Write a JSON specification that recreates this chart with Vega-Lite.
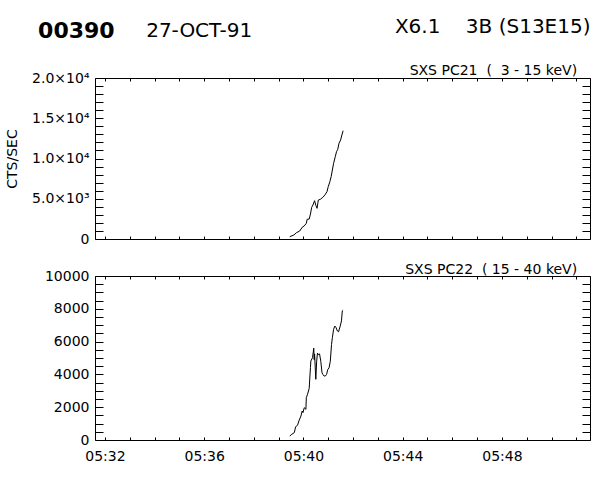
{
  "$schema": "https://vega.github.io/schema/vega-lite/v6.json",
  "background": "white",
  "padding": {"left": 5, "top": 16, "right": 5, "bottom": 5},
  "datasets": {
    "pc21": [
      {"t": "1991-10-27T05:39:27", "v": 290},
      {"t": "1991-10-27T05:39:37", "v": 500},
      {"t": "1991-10-27T05:39:43", "v": 780},
      {"t": "1991-10-27T05:39:51", "v": 990},
      {"t": "1991-10-27T05:39:57", "v": 1450},
      {"t": "1991-10-27T05:40:02", "v": 1620},
      {"t": "1991-10-27T05:40:07", "v": 1950},
      {"t": "1991-10-27T05:40:09", "v": 2450},
      {"t": "1991-10-27T05:40:14", "v": 2480},
      {"t": "1991-10-27T05:40:17", "v": 3100},
      {"t": "1991-10-27T05:40:20", "v": 3940},
      {"t": "1991-10-27T05:40:23", "v": 4220},
      {"t": "1991-10-27T05:40:27", "v": 4760},
      {"t": "1991-10-27T05:40:30", "v": 4190},
      {"t": "1991-10-27T05:40:33", "v": 3810},
      {"t": "1991-10-27T05:40:36", "v": 4840},
      {"t": "1991-10-27T05:40:41", "v": 4930},
      {"t": "1991-10-27T05:40:47", "v": 5180},
      {"t": "1991-10-27T05:40:52", "v": 5470},
      {"t": "1991-10-27T05:40:57", "v": 5880},
      {"t": "1991-10-27T05:41:00", "v": 6500},
      {"t": "1991-10-27T05:41:04", "v": 7120},
      {"t": "1991-10-27T05:41:07", "v": 7740},
      {"t": "1991-10-27T05:41:10", "v": 8570},
      {"t": "1991-10-27T05:41:13", "v": 9400},
      {"t": "1991-10-27T05:41:17", "v": 10220},
      {"t": "1991-10-27T05:41:20", "v": 10840},
      {"t": "1991-10-27T05:41:23", "v": 11140},
      {"t": "1991-10-27T05:41:26", "v": 11890},
      {"t": "1991-10-27T05:41:30", "v": 12300},
      {"t": "1991-10-27T05:41:33", "v": 12920},
      {"t": "1991-10-27T05:41:36", "v": 13450}
    ],
    "pc22": [
      {"t": "1991-10-27T05:39:27", "v": 240},
      {"t": "1991-10-27T05:39:32", "v": 350},
      {"t": "1991-10-27T05:39:38", "v": 450},
      {"t": "1991-10-27T05:39:41", "v": 790},
      {"t": "1991-10-27T05:39:46", "v": 920},
      {"t": "1991-10-27T05:39:49", "v": 1160},
      {"t": "1991-10-27T05:39:54", "v": 1460},
      {"t": "1991-10-27T05:39:57", "v": 1770},
      {"t": "1991-10-27T05:39:59", "v": 1670},
      {"t": "1991-10-27T05:40:02", "v": 1970},
      {"t": "1991-10-27T05:40:06", "v": 1870},
      {"t": "1991-10-27T05:40:07", "v": 2580},
      {"t": "1991-10-27T05:40:10", "v": 2790},
      {"t": "1991-10-27T05:40:14", "v": 3150},
      {"t": "1991-10-27T05:40:15", "v": 3600},
      {"t": "1991-10-27T05:40:17", "v": 4410},
      {"t": "1991-10-27T05:40:18", "v": 4820},
      {"t": "1991-10-27T05:40:22", "v": 5020},
      {"t": "1991-10-27T05:40:25", "v": 5600},
      {"t": "1991-10-27T05:40:26", "v": 4900},
      {"t": "1991-10-27T05:40:27", "v": 5250},
      {"t": "1991-10-27T05:40:29", "v": 4200},
      {"t": "1991-10-27T05:40:30", "v": 3700},
      {"t": "1991-10-27T05:40:32", "v": 4800},
      {"t": "1991-10-27T05:40:34", "v": 5300},
      {"t": "1991-10-27T05:40:36", "v": 5200},
      {"t": "1991-10-27T05:40:39", "v": 5250},
      {"t": "1991-10-27T05:40:42", "v": 4800},
      {"t": "1991-10-27T05:40:45", "v": 4100},
      {"t": "1991-10-27T05:40:47", "v": 4000},
      {"t": "1991-10-27T05:40:50", "v": 3900},
      {"t": "1991-10-27T05:40:53", "v": 3900},
      {"t": "1991-10-27T05:40:56", "v": 4000},
      {"t": "1991-10-27T05:40:59", "v": 4300},
      {"t": "1991-10-27T05:41:02", "v": 4400},
      {"t": "1991-10-27T05:41:05", "v": 4800},
      {"t": "1991-10-27T05:41:08", "v": 5830},
      {"t": "1991-10-27T05:41:10", "v": 6240},
      {"t": "1991-10-27T05:41:13", "v": 6750},
      {"t": "1991-10-27T05:41:16", "v": 6950},
      {"t": "1991-10-27T05:41:19", "v": 6850},
      {"t": "1991-10-27T05:41:22", "v": 6650},
      {"t": "1991-10-27T05:41:25", "v": 6600},
      {"t": "1991-10-27T05:41:29", "v": 6950},
      {"t": "1991-10-27T05:41:32", "v": 7260},
      {"t": "1991-10-27T05:41:34", "v": 7870},
      {"t": "1991-10-27T05:41:36", "v": 7910}
    ]
  },
  "title": {
    "text": "00390",
    "subtitle": "\u200b\u00a0\u00a0\u00a0\u00a0\u00a0\u00a0\u00a0\u00a0\u00a0\u00a0\u00a0\u00a0\u00a0\u00a0\u00a0\u00a0\u00a027-OCT-91",
    "anchor": "start",
    "frame": "bounds",
    "fontSize": 22,
    "fontWeight": "bold",
    "subtitleFontSize": 20,
    "subtitlePadding": -22,
    "dx": 33,
    "offset": -26
  },
  "spacing": 15,
  "vconcat": [
    {
      "data": {"name": "pc21"},
      "width": 495,
      "height": 161,
      "title": {
        "text": "X6.1\u00a0\u00a0\u00a0\u00a03B (S13E15)",
        "subtitle": "SXS PC21\u00a0\u00a0(\u00a0\u00a03\u00a0-\u00a015\u00a0keV)\u00a0\u00a0\u00a0\u200b",
        "anchor": "end",
        "fontSize": 20,
        "fontWeight": "normal",
        "subtitleFontSize": 14,
        "subtitlePadding": 27,
        "offset": -7
      },
      "layer": [
        {
          "mark": {"type": "line", "color": "black", "strokeWidth": 1},
          "encoding": {
            "x": {
              "field": "t", "type": "temporal",
              "scale": {"domain": [
                {"year": 1991, "month": 10, "date": 27, "hours": 5, "minutes": 31, "seconds": 36},
                {"year": 1991, "month": 10, "date": 27, "hours": 5, "minutes": 51, "seconds": 33}
              ]},
              "axis": {
                "orient": "bottom", "title": null, "labels": false,
                "values": [
                  {"year": 1991, "month": 10, "date": 27, "hours": 5, "minutes": 32},
                  {"year": 1991, "month": 10, "date": 27, "hours": 5, "minutes": 33},
                  {"year": 1991, "month": 10, "date": 27, "hours": 5, "minutes": 34},
                  {"year": 1991, "month": 10, "date": 27, "hours": 5, "minutes": 35},
                  {"year": 1991, "month": 10, "date": 27, "hours": 5, "minutes": 36},
                  {"year": 1991, "month": 10, "date": 27, "hours": 5, "minutes": 37},
                  {"year": 1991, "month": 10, "date": 27, "hours": 5, "minutes": 38},
                  {"year": 1991, "month": 10, "date": 27, "hours": 5, "minutes": 39},
                  {"year": 1991, "month": 10, "date": 27, "hours": 5, "minutes": 40},
                  {"year": 1991, "month": 10, "date": 27, "hours": 5, "minutes": 41},
                  {"year": 1991, "month": 10, "date": 27, "hours": 5, "minutes": 42},
                  {"year": 1991, "month": 10, "date": 27, "hours": 5, "minutes": 43},
                  {"year": 1991, "month": 10, "date": 27, "hours": 5, "minutes": 44},
                  {"year": 1991, "month": 10, "date": 27, "hours": 5, "minutes": 45},
                  {"year": 1991, "month": 10, "date": 27, "hours": 5, "minutes": 46},
                  {"year": 1991, "month": 10, "date": 27, "hours": 5, "minutes": 47},
                  {"year": 1991, "month": 10, "date": 27, "hours": 5, "minutes": 48},
                  {"year": 1991, "month": 10, "date": 27, "hours": 5, "minutes": 49},
                  {"year": 1991, "month": 10, "date": 27, "hours": 5, "minutes": 50},
                  {"year": 1991, "month": 10, "date": 27, "hours": 5, "minutes": 51}
                ],
                "tickSize": -3
              }
            },
            "y": {
              "field": "v", "type": "quantitative",
              "scale": {"domain": [0, 20000], "nice": false},
              "axis": {
                "orient": "left", "title": "CTS/SEC",
                "values": [0,1000,2000,3000,4000,5000,6000,7000,8000,9000,10000,11000,12000,13000,14000,15000,16000,17000,18000,19000,20000],
                "labelExpr": "datum.value === 0 ? '0' : datum.value === 5000 ? '5.0×10³' : datum.value === 10000 ? '1.0×10⁴' : datum.value === 15000 ? '1.5×10⁴' : datum.value === 20000 ? '2.0×10⁴' : ''",
                "labelPadding": 14,
                "titlePadding": 12,
                "tickSize": -8
              }
            }
          }
        },
        {
          "mark": {"type": "line", "opacity": 0},
          "encoding": {
            "x": {
              "field": "t", "type": "temporal",
              "axis": {
                "orient": "top", "title": null, "labels": false,
                "values": [
                  {"year": 1991, "month": 10, "date": 27, "hours": 5, "minutes": 32},
                  {"year": 1991, "month": 10, "date": 27, "hours": 5, "minutes": 33},
                  {"year": 1991, "month": 10, "date": 27, "hours": 5, "minutes": 34},
                  {"year": 1991, "month": 10, "date": 27, "hours": 5, "minutes": 35},
                  {"year": 1991, "month": 10, "date": 27, "hours": 5, "minutes": 36},
                  {"year": 1991, "month": 10, "date": 27, "hours": 5, "minutes": 37},
                  {"year": 1991, "month": 10, "date": 27, "hours": 5, "minutes": 38},
                  {"year": 1991, "month": 10, "date": 27, "hours": 5, "minutes": 39},
                  {"year": 1991, "month": 10, "date": 27, "hours": 5, "minutes": 40},
                  {"year": 1991, "month": 10, "date": 27, "hours": 5, "minutes": 41},
                  {"year": 1991, "month": 10, "date": 27, "hours": 5, "minutes": 42},
                  {"year": 1991, "month": 10, "date": 27, "hours": 5, "minutes": 43},
                  {"year": 1991, "month": 10, "date": 27, "hours": 5, "minutes": 44},
                  {"year": 1991, "month": 10, "date": 27, "hours": 5, "minutes": 45},
                  {"year": 1991, "month": 10, "date": 27, "hours": 5, "minutes": 46},
                  {"year": 1991, "month": 10, "date": 27, "hours": 5, "minutes": 47},
                  {"year": 1991, "month": 10, "date": 27, "hours": 5, "minutes": 48},
                  {"year": 1991, "month": 10, "date": 27, "hours": 5, "minutes": 49},
                  {"year": 1991, "month": 10, "date": 27, "hours": 5, "minutes": 50},
                  {"year": 1991, "month": 10, "date": 27, "hours": 5, "minutes": 51}
                ],
                "tickSize": -3
              }
            },
            "y": {
              "field": "v", "type": "quantitative",
              "axis": {
                "orient": "right", "title": null, "labels": false,
                "values": [0,1000,2000,3000,4000,5000,6000,7000,8000,9000,10000,11000,12000,13000,14000,15000,16000,17000,18000,19000,20000],
                "tickSize": -8
              }
            }
          }
        }
      ],
      "resolve": {"axis": {"x": "independent", "y": "independent"}}
    },
    {
      "data": {"name": "pc22"},
      "width": 495,
      "height": 164,
      "title": {
        "text": "SXS PC22\u00a0\u00a0(\u00a015\u00a0-\u00a040\u00a0keV)\u00a0\u00a0\u00a0\u200b",
        "anchor": "end",
        "fontSize": 14,
        "fontWeight": "normal",
        "offset": -8
      },
      "layer": [
        {
          "mark": {"type": "line", "color": "black", "strokeWidth": 1},
          "encoding": {
            "x": {
              "field": "t", "type": "temporal",
              "scale": {"domain": [
                {"year": 1991, "month": 10, "date": 27, "hours": 5, "minutes": 31, "seconds": 36},
                {"year": 1991, "month": 10, "date": 27, "hours": 5, "minutes": 51, "seconds": 33}
              ]},
              "axis": {
                "orient": "bottom", "title": null,
                "values": [
                  {"year": 1991, "month": 10, "date": 27, "hours": 5, "minutes": 32},
                  {"year": 1991, "month": 10, "date": 27, "hours": 5, "minutes": 33},
                  {"year": 1991, "month": 10, "date": 27, "hours": 5, "minutes": 34},
                  {"year": 1991, "month": 10, "date": 27, "hours": 5, "minutes": 35},
                  {"year": 1991, "month": 10, "date": 27, "hours": 5, "minutes": 36},
                  {"year": 1991, "month": 10, "date": 27, "hours": 5, "minutes": 37},
                  {"year": 1991, "month": 10, "date": 27, "hours": 5, "minutes": 38},
                  {"year": 1991, "month": 10, "date": 27, "hours": 5, "minutes": 39},
                  {"year": 1991, "month": 10, "date": 27, "hours": 5, "minutes": 40},
                  {"year": 1991, "month": 10, "date": 27, "hours": 5, "minutes": 41},
                  {"year": 1991, "month": 10, "date": 27, "hours": 5, "minutes": 42},
                  {"year": 1991, "month": 10, "date": 27, "hours": 5, "minutes": 43},
                  {"year": 1991, "month": 10, "date": 27, "hours": 5, "minutes": 44},
                  {"year": 1991, "month": 10, "date": 27, "hours": 5, "minutes": 45},
                  {"year": 1991, "month": 10, "date": 27, "hours": 5, "minutes": 46},
                  {"year": 1991, "month": 10, "date": 27, "hours": 5, "minutes": 47},
                  {"year": 1991, "month": 10, "date": 27, "hours": 5, "minutes": 48},
                  {"year": 1991, "month": 10, "date": 27, "hours": 5, "minutes": 49},
                  {"year": 1991, "month": 10, "date": 27, "hours": 5, "minutes": 50},
                  {"year": 1991, "month": 10, "date": 27, "hours": 5, "minutes": 51}
                ],
                "labelExpr": "minutes(datum.value) % 4 === 0 ? timeFormat(datum.value, '%H:%M') : ''",
                "labelPadding": 12,
                "labelFlush": false,
                "tickSize": -3
              }
            },
            "y": {
              "field": "v", "type": "quantitative",
              "scale": {"domain": [0, 10000], "nice": false},
              "axis": {
                "orient": "left", "title": null,
                "values": [0,500,1000,1500,2000,2500,3000,3500,4000,4500,5000,5500,6000,6500,7000,7500,8000,8500,9000,9500,10000],
                "labelExpr": "datum.value % 2000 === 0 ? format(datum.value, 'd') : ''",
                "labelPadding": 14,
                "tickSize": -8
              }
            }
          }
        },
        {
          "mark": {"type": "line", "opacity": 0},
          "encoding": {
            "x": {
              "field": "t", "type": "temporal",
              "axis": {
                "orient": "top", "title": null, "labels": false,
                "values": [
                  {"year": 1991, "month": 10, "date": 27, "hours": 5, "minutes": 32},
                  {"year": 1991, "month": 10, "date": 27, "hours": 5, "minutes": 33},
                  {"year": 1991, "month": 10, "date": 27, "hours": 5, "minutes": 34},
                  {"year": 1991, "month": 10, "date": 27, "hours": 5, "minutes": 35},
                  {"year": 1991, "month": 10, "date": 27, "hours": 5, "minutes": 36},
                  {"year": 1991, "month": 10, "date": 27, "hours": 5, "minutes": 37},
                  {"year": 1991, "month": 10, "date": 27, "hours": 5, "minutes": 38},
                  {"year": 1991, "month": 10, "date": 27, "hours": 5, "minutes": 39},
                  {"year": 1991, "month": 10, "date": 27, "hours": 5, "minutes": 40},
                  {"year": 1991, "month": 10, "date": 27, "hours": 5, "minutes": 41},
                  {"year": 1991, "month": 10, "date": 27, "hours": 5, "minutes": 42},
                  {"year": 1991, "month": 10, "date": 27, "hours": 5, "minutes": 43},
                  {"year": 1991, "month": 10, "date": 27, "hours": 5, "minutes": 44},
                  {"year": 1991, "month": 10, "date": 27, "hours": 5, "minutes": 45},
                  {"year": 1991, "month": 10, "date": 27, "hours": 5, "minutes": 46},
                  {"year": 1991, "month": 10, "date": 27, "hours": 5, "minutes": 47},
                  {"year": 1991, "month": 10, "date": 27, "hours": 5, "minutes": 48},
                  {"year": 1991, "month": 10, "date": 27, "hours": 5, "minutes": 49},
                  {"year": 1991, "month": 10, "date": 27, "hours": 5, "minutes": 50},
                  {"year": 1991, "month": 10, "date": 27, "hours": 5, "minutes": 51}
                ],
                "tickSize": -3
              }
            },
            "y": {
              "field": "v", "type": "quantitative",
              "axis": {
                "orient": "right", "title": null, "labels": false,
                "values": [0,500,1000,1500,2000,2500,3000,3500,4000,4500,5000,5500,6000,6500,7000,7500,8000,8500,9000,9500,10000],
                "tickSize": -8
              }
            }
          }
        }
      ],
      "resolve": {"axis": {"x": "independent", "y": "independent"}}
    }
  ],
  "config": {
    "font": "DejaVu Sans",
    "title": {"color": "black", "subtitleColor": "black"},
    "view": {"stroke": "black", "strokeWidth": 1},
    "axis": {
      "domain": false,
      "grid": false,
      "tickColor": "black",
      "labelColor": "black",
      "labelFontSize": 14,
      "titleFontSize": 14,
      "titleFontWeight": "normal",
      "titleColor": "black"
    }
  }
}
